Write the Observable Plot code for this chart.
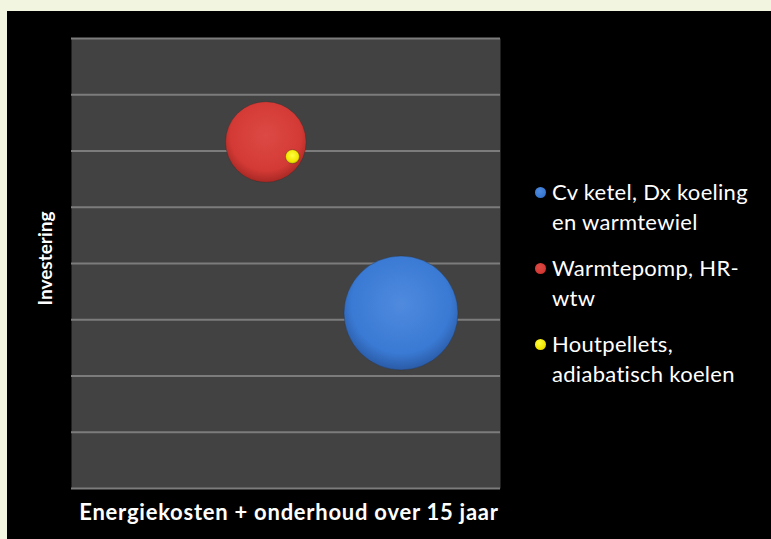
<!DOCTYPE html>
<html>
<head>
<meta charset="utf-8">
<script src="https://cdn.jsdelivr.net/npm/d3@7"></script>
<script src="https://cdn.jsdelivr.net/npm/@observablehq/plot@0.6"></script>
<style>
  html, body { margin: 0; padding: 0; background: #f2f6e0; }
  #wrap { position: relative; width: 771px; height: 539px; overflow: hidden; }
  #black { position: absolute; left: 7px; top: 11px; right: 0; bottom: 0; background: #000; }
  #chart { position: absolute; left: 0; top: 0; }
  #legend { position: absolute; left: 532px; top: 177px; font-family: Lato, "Open Sans", sans-serif; font-size: 22px; letter-spacing: 0.3px; color: #fff; line-height: 30px; }
  .item { position: relative; padding-left: 20px; margin-bottom: 16px; white-space: nowrap; }
  .sw { position: absolute; left: 3px; top: 10px; width: 11px; height: 11px; border-radius: 50%; }
</style>
</head>
<body>
<div id="wrap">
  <div id="black"></div>
  <div id="chart"></div>
  <div id="legend"></div>
</div>
<script>
// Data (axis units are unlabeled; frame = 0..10 by 0..8)
const names = ["Cv ketel, Dx koeling en warmtewiel", "Warmtepomp, HR-wtw", "Houtpellets, adiabatisch koelen"];
const legendLines = [["Cv ketel, Dx koeling", "en warmtewiel"], ["Warmtepomp, HR-", "wtw"], ["Houtpellets,", "adiabatisch koelen"]];
const energyCosts = [7.68, 4.53, 5.15];   // x: Energiekosten + onderhoud over 15 jaar
const investments = [3.12, 6.16, 5.90];   // y: Investering
const bubbleSizes = [100, 50, 1.5];       // bubble size
const gridTicks = [0, 1, 2, 3, 4, 5, 6, 7, 8];
const xLabel = "Energiekosten + onderhoud over 15 jaar";
const yLabel = "Investering";

const baseColors = ["#3a7ad4", "#d43a35", "#f2e600"];
const lightColors = ["#4f8ade", "#dc4a45", "#ffff40"];
const darkColors = ["#2a5ba6", "#a82824", "#c8b800"];
const gradIds = ["gBlue", "gRed", "gYellow"];

const data = names.map((n, i) => ({name: n, x: energyCosts[i], y: investments[i], s: bubbleSizes[i]}));

const plot = Plot.plot({
  width: 771,
  height: 539,
  marginLeft: 71,
  marginRight: 271,
  marginTop: 38,
  marginBottom: 51,
  style: {background: "transparent", overflow: "visible"},
  x: {domain: [0, 10], axis: null},
  y: {domain: [0, 8], axis: null},
  r: {type: "sqrt", domain: [0, 100], range: [0, 57]},
  color: {type: "ordinal", domain: names, range: gradIds.map(g => `url(#${g})`)},
  marks: [
    Plot.frame({fill: "#424242"}),
    Plot.gridY(gridTicks, {stroke: "#7c7c7c", strokeOpacity: 1, strokeWidth: 2}),
    Plot.dot(data, {x: "x", y: "y", r: "s", fill: "name", stroke: "#2a2a2a", strokeOpacity: 0.35, strokeWidth: 1}),
    Plot.text([xLabel], {text: d => d, frameAnchor: "bottom", dx: 3, dy: 31, fill: "#fff", fontSize: 22, fontWeight: "bold", fontFamily: "Lato, 'Open Sans', sans-serif", className: "xlab"}),
    Plot.text([yLabel], {text: d => d, frameAnchor: "left", textAnchor: "middle", dx: -26, dy: -5, rotate: -90, fill: "#fff", fontSize: 19, fontWeight: "bold", fontFamily: "Lato, 'Open Sans', sans-serif"})
  ]
});

const svg = d3.select(plot);
svg.selectAll(".xlab text").attr("letter-spacing", "0.75px");
const defs = svg.insert("defs", ":first-child");
gradIds.forEach((g, i) => {
  const rg = defs.append("radialGradient").attr("id", g).attr("cx", "50%").attr("cy", "42%").attr("r", "58%");
  rg.append("stop").attr("offset", "0%").attr("stop-color", lightColors[i]);
  rg.append("stop").attr("offset", "75%").attr("stop-color", baseColors[i]);
  rg.append("stop").attr("offset", "100%").attr("stop-color", darkColors[i]);
});
document.getElementById("chart").appendChild(plot);

const legend = d3.select("#legend");
legendLines.forEach((lines, i) => {
  const item = legend.append("div").attr("class", "item");
  item.append("span").attr("class", "sw")
    .style("background", `radial-gradient(circle at 40% 35%, ${lightColors[i]}, ${baseColors[i]} 60%, ${darkColors[i]})`);
  lines.forEach(l => item.append("div").text(l));
});
</script>
</body>
</html>
